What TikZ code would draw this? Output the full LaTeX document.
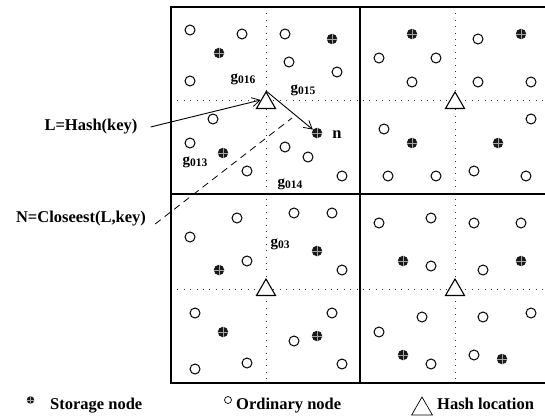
\documentclass[tikz,border=0pt]{standalone}
\usepackage{fontspec}
\setmainfont{Liberation Serif}
\usetikzlibrary{shapes.geometric,arrows.meta}
\tikzset{
  ord/.style={circle,draw,line width=1pt,minimum size=10pt,inner sep=0pt,fill=white},
  stor/.style={circle,fill=black!90,minimum size=10.5pt,inner sep=0pt,
    path picture={\draw[black!35,line width=0.45pt]
      (path picture bounding box.north) -- (path picture bounding box.south)
      (path picture bounding box.west) -- (path picture bounding box.east);}},
  hashtri/.style={regular polygon,regular polygon sides=3,draw,line width=1.1pt,
    minimum size=22pt,inner sep=0pt,fill=white},
  lbl/.style={font=\fontsize{16.5}{18}\selectfont\bfseries,inner sep=1pt},
  glbl/.style={inner sep=1pt},
  grid/.style={line width=1.3pt},
  dots/.style={line width=0.8pt,dash pattern=on 0.8pt off 5.6pt,black!80},
  arr/.style={line width=0.9pt,-{Straight Barb[length=8pt,width=9pt,line width=0.8pt]}},
}
\newcommand{\gname}[1]{\fontsize{15}{16}\selectfont\bfseries g\raisebox{-2pt}{\fontsize{11.5}{12}\selectfont #1}}
\begin{document}
\begin{tikzpicture}[x=1pt,y=-1pt]
\useasboundingbox (0,0) rectangle (545,417);
% dotted sub-grid
\draw[dots] (171,100) -- (546,100);
\draw[dots] (171,289) -- (546,289);
\draw[dots] (266,7) -- (266,383);
\draw[dots] (455,7) -- (455,383);
% main grid
\draw[grid] (546,7) -- (171,7) -- (171,383) -- (546,383);
\draw[grid] (360,7) -- (360,383);
\draw[grid] (171,194) -- (546,194);
% ordinary nodes
\foreach \x/\y [count=\i] in {190/30,242/34,190/81,213/119,190/143,247/171,285/34,289/62,337/72,285/147,308/157,342/176,
  379/58,436/58,412/82,478/39,478/82,531/82,384/129,388/176,436/176,531/119,474/171,526/176,
  237/218,190/237,247/261,195/313,247/363,195/369,294/213,332/213,342/270,332/313,294/341,342/364,
  379/223,431/218,431/266,474/223,521/223,483/270,422/317,379/332,431/364,483/317,531/313,474/355}
  \node[ord] (o\i) at (\x,\y) {};
% storage nodes
\foreach \x/\y [count=\i] in {219/53,223/153,332/39,412/34,521/34,412/143,498/143,
  219/270,223/332,317/251,317/336,403/261,521/261,403/355,502/359}
  \node[stor] (s\i) at (\x,\y) {};
\node[stor] (n) at (317,133) {};
\node[lbl] (nl) at (337,135) {n};
% hash locations
\node[hashtri] (t1) at (266,103) {};
\node[hashtri] (t2) at (455,103) {};
\node[hashtri] (t3) at (266,290) {};
\node[hashtri] (t4) at (455,290) {};
% group labels
\node[glbl] (g016) at (243,79) {\gname{016}};
\node[glbl] (g015) at (303,90) {\gname{015}};
\node[glbl] (g013) at (195,162) {\gname{013}};
\node[glbl,fill=white,inner xsep=3pt,inner ysep=3pt] (g014) at (290,184) {\gname{014}};
\node[glbl] (g03) at (280,244) {\gname{03}};
% annotations
\node[lbl] (L) at (91,127) {L=Hash(key)};
\node[lbl] (N) at (81,219) {N=Closeest(L,key)};
\draw[arr] ([xshift=12pt]L.east) -- (t1.side 1);
\draw[arr] (t1.corner 1) -- (n);
\coordinate (mid) at (292,118);
\draw[line width=0.8pt,dash pattern=on 7pt off 5pt] ([xshift=8pt,yshift=-5pt]N.east) -- (mid);
% legend
\node[stor,minimum size=7.5pt] (ls) at (30.5,400) {};
\node[lbl,anchor=base west] (lst) at (49,409) {Storage node};
\node[circle,draw,line width=0.7pt,minimum size=7pt,inner sep=0pt] (lo) at (228,400) {};
\node[lbl,anchor=base west] (lot) at (235,409) {Ordinary node};
\node[regular polygon,regular polygon sides=3,draw,line width=0.7pt,minimum size=24pt,inner sep=0pt] (lt) at (422,409) {};
\node[lbl,anchor=base west] (ltt) at (436,409) {Hash location};
\end{tikzpicture}
\end{document}
